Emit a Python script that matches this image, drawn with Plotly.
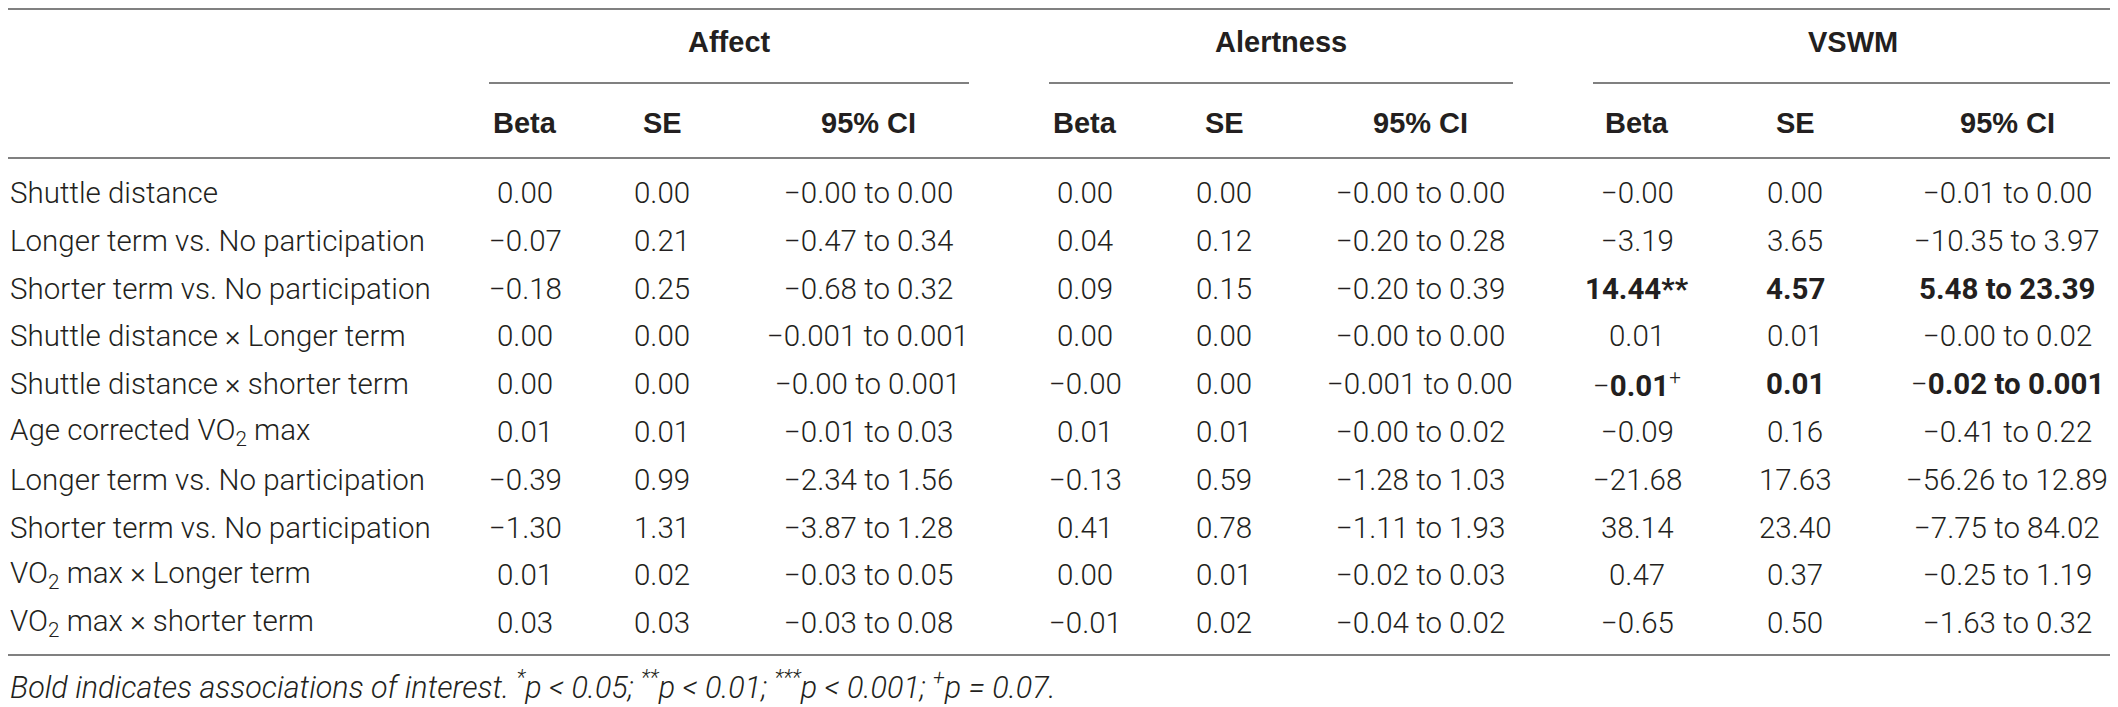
import plotly.graph_objects as go

# row labels
labels = [
    "Shuttle distance",
    "Longer term vs. No participation",
    "Shorter term vs. No participation",
    "Shuttle distance × Longer term",
    "Shuttle distance × shorter term",
    "Age corrected VO<sub>2</sub> max",
    "Longer term vs. No participation",
    "Shorter term vs. No participation",
    "VO<sub>2</sub> max × Longer term",
    "VO<sub>2</sub> max × shorter term",
]

groups = ["Affect", "Alertness", "VSWM"]
subheads = ["Beta", "SE", "95% CI"]

affect_beta = ["0.00", "−0.07", "−0.18", "0.00", "0.00", "0.01", "−0.39", "−1.30", "0.01", "0.03"]
affect_se = ["0.00", "0.21", "0.25", "0.00", "0.00", "0.01", "0.99", "1.31", "0.02", "0.03"]
affect_ci = ["−0.00 to 0.00", "−0.47 to 0.34", "−0.68 to 0.32", "−0.001 to 0.001", "−0.00 to 0.001",
             "−0.01 to 0.03", "−2.34 to 1.56", "−3.87 to 1.28", "−0.03 to 0.05", "−0.03 to 0.08"]

alert_beta = ["0.00", "0.04", "0.09", "0.00", "−0.00", "0.01", "−0.13", "0.41", "0.00", "−0.01"]
alert_se = ["0.00", "0.12", "0.15", "0.00", "0.00", "0.01", "0.59", "0.78", "0.01", "0.02"]
alert_ci = ["−0.00 to 0.00", "−0.20 to 0.28", "−0.20 to 0.39", "−0.00 to 0.00", "−0.001 to 0.00",
            "−0.00 to 0.02", "−1.28 to 1.03", "−1.11 to 1.93", "−0.02 to 0.03", "−0.04 to 0.02"]

vswm_beta = ["−0.00", "−3.19", "14.44", "0.01", "−0.01", "−0.09", "−21.68", "38.14", "0.47", "−0.65"]
vswm_marks = ["", "", "**", "", "<sup>+</sup>", "", "", "", "", ""]
vswm_se = ["0.00", "3.65", "4.57", "0.01", "0.01", "0.16", "17.63", "23.40", "0.37", "0.50"]
vswm_ci = ["−0.01 to 0.00", "−10.35 to 3.97", "5.48 to 23.39", "−0.00 to 0.02", "−0.02 to 0.001",
           "−0.41 to 0.22", "−56.26 to 12.89", "−7.75 to 84.02", "−0.25 to 1.19", "−1.63 to 0.32"]

# rows of interest (bold in VSWM block)
vswm_bold = [False, False, True, False, True, False, False, False, False, False]

footnote = ("<i>Bold indicates associations of interest. <sup>*</sup>p &lt; 0.05; <sup>**</sup>p &lt; 0.01; "
            "<sup>***</sup>p &lt; 0.001; <sup>+</sup>p = 0.07.</i>")

# --- layout geometry (page pixels) ---
# the html body has an 8px margin, so the figure is shifted by 8px;
# axis ranges start at 8 so that coordinates below are page pixels
PAD = 8
W, H = 2118, 707
col_x = [[525, 662, 868], [1085, 1224, 1420], [1637, 1795, 2007]]
group_span = [(489, 969), (1049, 1513), (1593, 2112)]
row_y0, row_h = 193, 47.8
TEXT = "#231f20"
LINE = "#808080"
BODY = dict(family="Roboto", size=29.5, color=TEXT, weight=300)
BOLD = dict(family="Liberation Sans", size=29, color=TEXT)


def fmt(v, bold, mark=""):
    # a leading minus stays in the light weight, the number itself is bold
    if not bold:
        return v + mark
    sup = mark.startswith("<")
    lead = ""
    if v.startswith("−"):
        lead, v = "−", v[1:]
    if sup:
        return lead + "<b>" + v + "</b>" + mark
    return lead + "<b>" + v + mark + "</b>"


fig = go.Figure()
ann = []

# header
for g, (x0, x1) in zip(groups, group_span):
    ann.append(dict(x=(x0 + x1) / 2, y=42, text="<b>" + g + "</b>", font=BOLD))
for cols in col_x:
    for h, x in zip(subheads, cols):
        ann.append(dict(x=x, y=123, text="<b>" + h + "</b>", font=BOLD))

# body
blocks = [
    (affect_beta, affect_se, affect_ci, [""] * 10, [False] * 10),
    (alert_beta, alert_se, alert_ci, [""] * 10, [False] * 10),
    (vswm_beta, vswm_se, vswm_ci, vswm_marks, vswm_bold),
]
for i, lab in enumerate(labels):
    y = row_y0 + i * row_h
    ann.append(dict(x=PAD, y=y, text=lab, xanchor="left", font=BODY))
    for (beta, se, ci, marks, bold), cols in zip(blocks, col_x):
        ann.append(dict(x=cols[0], y=y, text=fmt(beta[i], bold[i], marks[i]), font=BODY))
        ann.append(dict(x=cols[1], y=y, text=fmt(se[i], bold[i]), font=BODY))
        ann.append(dict(x=cols[2], y=y, text=fmt(ci[i], bold[i]), font=BODY))

ann.append(dict(x=PAD, y=685, text=footnote, xanchor="left", font=dict(BODY, size=30.5)))

for a in ann:
    a.setdefault("xanchor", "center")
    a.update(xref="x", yref="y", yanchor="middle", showarrow=False)

shapes = [
    dict(type="line", x0=PAD, x1=2112, y0=5 + 4, y1=5 + 4),
    dict(type="line", x0=PAD, x1=2112, y0=158, y1=158),
    dict(type="line", x0=PAD, x1=2112, y0=655, y1=655),
]
for x0, x1 in group_span:
    shapes.append(dict(type="line", x0=x0, x1=x1, y0=83, y1=83))
for s in shapes:
    s.update(xref="x", yref="y", line=dict(color=LINE, width=2))

fig.update_layout(
    width=W - PAD, height=H - PAD,
    margin=dict(l=0, r=0, t=0, b=0),
    paper_bgcolor="white", plot_bgcolor="white",
    xaxis=dict(range=[PAD, W], visible=False, fixedrange=True),
    yaxis=dict(range=[H, PAD], visible=False, fixedrange=True),
    annotations=ann, shapes=shapes, showlegend=False,
)

fig.write_html("out.html")
